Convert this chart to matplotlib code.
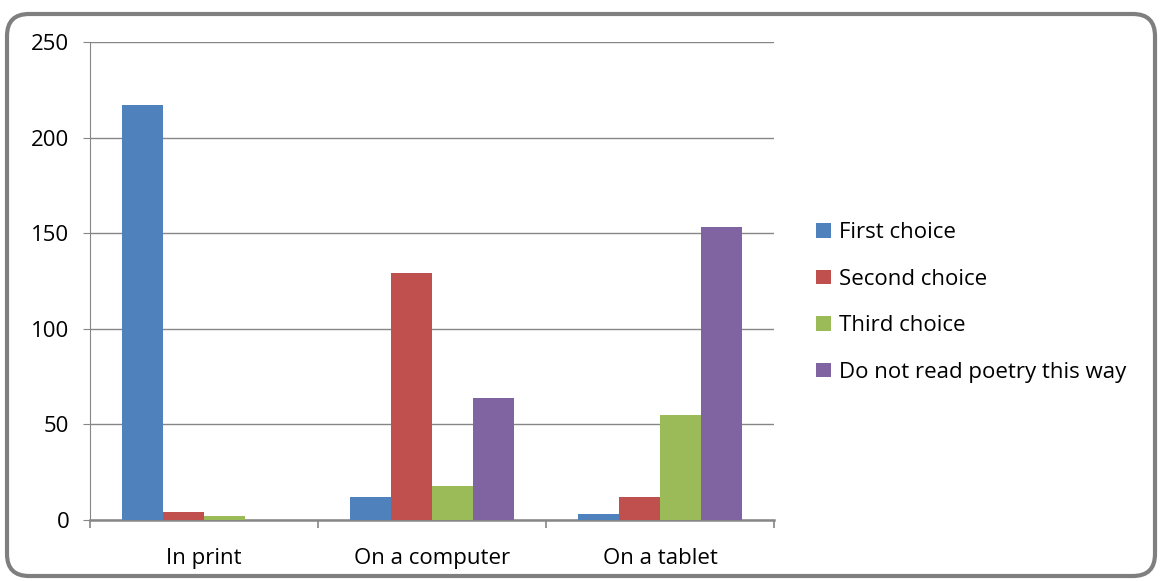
import matplotlib
matplotlib.use("Agg")
import matplotlib.pyplot as plt
import numpy as np
from matplotlib.patches import FancyBboxPatch

# Data
categories = ["In print", "On a computer", "On a tablet"]
series_names = ["First choice", "Second choice", "Third choice", "Do not read poetry this way"]
first_choice = [217, 12, 3]
second_choice = [4, 129, 12]
third_choice = [2, 18, 55]
not_this_way = [0, 64, 153]
y_ticks = [0, 50, 100, 150, 200, 250]

colors = ["#4F81BD", "#C0504D", "#9BBB59", "#8064A2"]
plt.rcParams["font.family"] = ["Open Sans", "DejaVu Sans"]
fs = 16

fig = plt.figure(figsize=(11.61, 5.81), dpi=100)
ax = fig.add_axes([90 / 1161, 61 / 581, 684 / 1161, 478 / 581])

x = np.arange(len(categories))
bar_w = 0.18
all_series = [first_choice, second_choice, third_choice, not_this_way]
for i, (vals, name) in enumerate(zip(all_series, series_names)):
    ax.bar(x + (i - 1.5) * bar_w, vals, width=bar_w, color=colors[i],
           label=name, zorder=3)

grid_col = "#868686"
ax.set_xlim(-0.5, 2.5)
ax.set_ylim(0, 250)
ax.set_yticks(y_ticks)
ax.yaxis.grid(True, color=grid_col, linewidth=1, zorder=0)
ax.set_xticks(x)
ax.set_xticklabels(categories, fontsize=fs)
ax.tick_params(axis="x", length=0, pad=20)
ax.tick_params(axis="y", length=5, color=grid_col, labelsize=fs, pad=10)
ax.set_xticks([-0.5, 0.5, 1.5, 2.5], minor=True)
ax.tick_params(axis="x", which="minor", length=6, color=grid_col, width=1.2)

for side in ["top", "right"]:
    ax.spines[side].set_visible(False)
ax.spines["left"].set_color(grid_col)
ax.spines["bottom"].set_color(grid_col)
ax.spines["bottom"].set_linewidth(1.8)

ax.legend(loc="center left", bbox_to_anchor=(1.049, 0.455), frameon=False,
          fontsize=fs, handlelength=0.65, handleheight=0.65,
          handletextpad=0.35, labelspacing=1.15, borderaxespad=0)

# rounded chart border
border = FancyBboxPatch((7, 5), 1148, 562, boxstyle="round,pad=0,rounding_size=22",
                        transform=None, facecolor="none", edgecolor="#7F7F7F",
                        linewidth=3, zorder=10)
fig.patches.append(border)

fig.savefig("out.png", dpi=100)
